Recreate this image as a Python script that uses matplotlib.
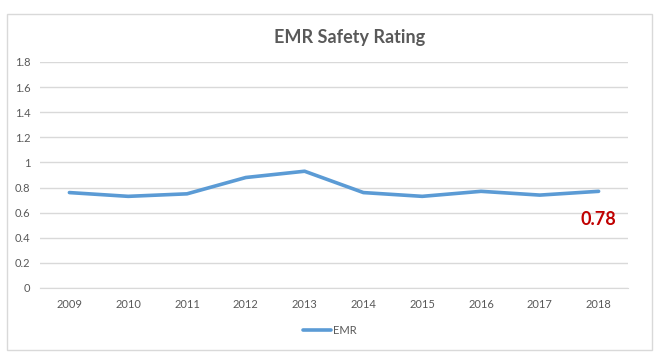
import matplotlib.pyplot as plt
from matplotlib.patches import Rectangle

years = ['2009', '2010', '2011', '2012', '2013', '2014', '2015', '2016', '2017', '2018']
emr = [0.76, 0.73, 0.75, 0.88, 0.93, 0.76, 0.73, 0.77, 0.74, 0.77]
y_ticks = [0, 0.2, 0.4, 0.6, 0.8, 1, 1.2, 1.4, 1.6, 1.8]
y_labels = ['0', '0.2', '0.4', '0.6', '0.8', '1', '1.2', '1.4', '1.6', '1.8']
last_label = '0.78'

plt.rcParams['font.family'] = ['Lato', 'DejaVu Sans']

W, H = 660, 362
fig = plt.figure(figsize=(W / 100, H / 100), dpi=100)
fig.patch.set_facecolor('white')

# chart frame
fig.patches.append(Rectangle((7 / W, 1 - 350 / H), 645 / W, 336 / H,
                             transform=fig.transFigure, fill=False,
                             edgecolor='#D9D9D9', linewidth=1))

ax = fig.add_axes([40 / W, 1 - 288 / H, 588 / W, 226 / H])
x = range(len(years))
line, = ax.plot(x, emr, color='#5B9BD5', linewidth=2.6, solid_capstyle='round', label='EMR')

ax.set_xlim(-0.5, len(years) - 0.5)
ax.set_ylim(0, 1.8)
ax.set_yticks(y_ticks)
ax.set_yticklabels(y_labels)
ax.set_xticks(list(x))
ax.set_xticklabels(years)
ax.tick_params(length=0, labelsize=8, labelcolor='#595959')
ax.tick_params(axis='y', pad=7)
ax.tick_params(axis='x', pad=8)
ax.grid(axis='y', color='#D9D9D9', linewidth=1)
ax.set_axisbelow(True)
for s in ax.spines.values():
    s.set_visible(False)
ax.spines['bottom'].set_visible(True)
ax.spines['bottom'].set_color('#D9D9D9')

ax.annotate(last_label, (len(years) - 1, emr[-1]), xytext=(0, -20),
            textcoords='offset points', ha='center', va='center',
            color='#C00000', fontsize=13, fontweight='bold')

fig.text(350 / W, 1 - 37 / H, 'EMR Safety Rating', ha='center', va='center',
         fontsize=13, fontweight='bold', color='#595959')

fig.legend(handles=[line], loc='center', bbox_to_anchor=(330 / W, 1 - 330 / H),
           frameon=False, fontsize=8, labelcolor='#595959', handlelength=2.5,
           handletextpad=0.15)

fig.savefig('out.png', dpi=100)
